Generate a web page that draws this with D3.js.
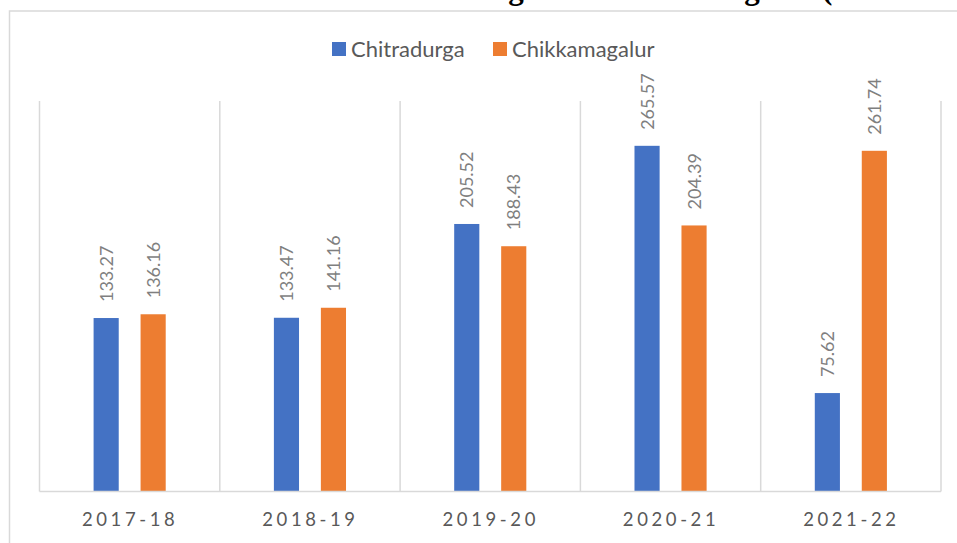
<!DOCTYPE html>
<html>
<head>
<meta charset="utf-8">
<script src="https://cdn.jsdelivr.net/npm/d3@7"></script>
<style>
  html, body { margin: 0; padding: 0; background: #ffffff; }
  svg { display: block; }
</style>
</head>
<body>
<svg id="chart" width="957" height="543"></svg>
<script>
// ---- data ----
const years = ["2017-18", "2018-19", "2019-20", "2020-21", "2021-22"];
const seriesNames = ["Chitradurga", "Chikkamagalur"];
const chitradurga = [133.27, 133.47, 205.52, 265.57, 75.62];
const chikkamagalur = [136.16, 141.16, 188.43, 204.39, 261.74];
const seriesColors = ["#4472C4", "#ED7D31"];
const titleText = "Tourist Arrivals in Chitradurga and Chikkamagalur (2017-18 to 2021-22)";

const seriesValues = [chitradurga, chikkamagalur];
const rows = years.map((y, i) => ({ year: y, values: seriesNames.map((s, j) => ({ key: s, value: seriesValues[j][i], color: seriesColors[j] })) }));

const svg = d3.select("#chart");
const W = 957, H = 543;
const plot = { left: 39.5, right: 941, top: 101, bottom: 491.5 };
const grid = "#d9d9d9";

// title, clipped by the top edge as in the reference
const title = svg.append("text")
  .attr("y", -1)
  .attr("font-family", "'Liberation Serif', 'DejaVu Serif', serif")
  .attr("font-weight", "bold")
  .attr("font-size", 31)
  .attr("fill", "#000")
  .text(titleText);
{
  const idx = titleText.indexOf("(");
  const off = title.node().getSubStringLength(0, idx);
  title.attr("x", 822 - off);
}

// outer chart frame (top and left edges visible)
svg.append("path")
  .attr("d", `M9.5,${H} V11 H${W}`)
  .attr("fill", "none")
  .attr("stroke", grid)
  .attr("stroke-width", 1.5);

// scales
const x0 = d3.scaleBand().domain(years).range([plot.left, plot.right]).paddingInner(0).paddingOuter(0);
const bw = x0.bandwidth();
const x1 = d3.scaleBand().domain(seriesNames).range([bw * 0.30, bw * 0.70]).paddingInner(0.465).paddingOuter(0);
const y = d3.scaleLinear().domain([0, 300]).range([plot.bottom, plot.top]);

// vertical category gridlines
const bounds = years.map(d => x0(d)).concat([x0(years[years.length - 1]) + bw]);
svg.append("g").selectAll("line").data(bounds).join("line")
  .attr("x1", d => d).attr("x2", d => d)
  .attr("y1", plot.top).attr("y2", plot.bottom)
  .attr("stroke", grid).attr("stroke-width", 1.5);

// bars
const groups = svg.append("g").selectAll("g").data(rows).join("g")
  .attr("transform", d => `translate(${x0(d.year)},0)`);

groups.selectAll("rect").data(d => d.values).join("rect")
  .attr("x", d => x1(d.key))
  .attr("width", x1.bandwidth())
  .attr("y", d => y(d.value))
  .attr("height", d => y(0) - y(d.value))
  .attr("fill", d => d.color);

// data labels (rotated)
groups.selectAll("text").data(d => d.values).join("text")
  .attr("transform", d => `translate(${x1(d.key) + x1.bandwidth() / 2},${y(d.value) - 16}) rotate(-90)`)
  .attr("dy", "0.36em")
  .attr("text-anchor", "start")
  .attr("font-family", "Lato, 'Open Sans', sans-serif")
  .attr("font-size", 18)
  .attr("fill", "#7f7f7f")
  .text(d => d.value.toFixed(2));

// x axis baseline
svg.append("line")
  .attr("x1", plot.left).attr("x2", plot.right)
  .attr("y1", plot.bottom).attr("y2", plot.bottom)
  .attr("stroke", grid).attr("stroke-width", 1.5);

// x axis labels
const xAxis = d3.axisBottom(x0).tickSize(0).tickPadding(0);
const ax = svg.append("g").attr("transform", `translate(0,${plot.bottom})`).call(xAxis);
ax.select(".domain").remove();
ax.selectAll("text")
  .attr("y", 34.5)
  .attr("dy", 0)
  .attr("dx", 0.5)
  .attr("font-family", "Lato, 'Open Sans', sans-serif")
  .attr("font-size", 18.5)
  .attr("letter-spacing", "3.6px")
  .attr("fill", "#595959");

// legend
const legendItems = [
  { name: seriesNames[0], color: seriesColors[0], x: 332 },
  { name: seriesNames[1], color: seriesColors[1], x: 493 }
];
const lg = svg.append("g").selectAll("g").data(legendItems).join("g")
  .attr("transform", d => `translate(${d.x},42)`);
lg.append("rect").attr("width", 14).attr("height", 14).attr("fill", d => d.color);
lg.append("text")
  .attr("x", 19).attr("y", 14.5)
  .attr("font-family", "Lato, 'Open Sans', sans-serif")
  .attr("font-size", 22)
  .attr("fill", "#595959")
  .text(d => d.name);
</script>
</body>
</html>
